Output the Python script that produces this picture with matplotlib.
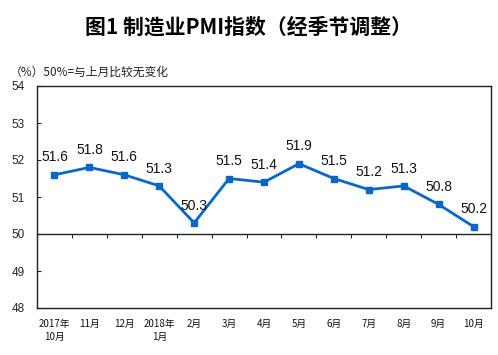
import matplotlib
matplotlib.use("Agg")
import matplotlib.pyplot as plt
import numpy as np

categories = ["2017年\n10月", "11月", "12月", "2018年\n1月", "2月", "3月", "4月",
              "5月", "6月", "7月", "8月", "9月", "10月"]
pmi = [51.6, 51.8, 51.6, 51.3, 50.3, 51.5, 51.4, 51.9, 51.5, 51.2, 51.3, 50.8, 50.2]
yticks = [48, 49, 50, 51, 52, 53, 54]
title = "图1 制造业PMI指数（经季节调整）"
note = "（%）50%=与上月比较无变化"

CJK = ["Noto Sans CJK SC", "DejaVu Sans"]
NUM = ["Liberation Sans", "DejaVu Sans"]
color = "#0a66c8"

fig = plt.figure(figsize=(4.98, 3.55), dpi=100)
ax = fig.add_axes([37/498, 1-308/355, 454/498, 222/355])

x = np.arange(len(pmi))
ax.plot(x, pmi, color=color, lw=2, marker="s", ms=4.5, zorder=3)
for xi, v in zip(x, pmi):
    ax.annotate(f"{v:.1f}", (xi, v), xytext=(0, 12.5), textcoords="offset points",
                ha="center", va="center", fontsize=10, family=NUM, color="#111111")

ax.set_xlim(-0.5, len(pmi)-0.5)
ax.set_ylim(yticks[0], yticks[-1])
ax.set_yticks(yticks)
ax.set_yticklabels([str(t) for t in yticks], family=NUM, fontsize=8.5)
ax.tick_params(axis="y", direction="in", length=3, width=0.8, pad=9, colors="#222222")

ax.set_xticks(x)
ax.set_xticklabels(categories, family=CJK, fontsize=7, linespacing=1.35)
ax.tick_params(axis="x", length=0, pad=8, colors="#111111")

for s in ax.spines.values():
    s.set_linewidth(1.0)
    s.set_color("#222222")

# axis line at 50 with category boundary ticks
loc = (50 - yticks[0]) / (yticks[-1] - yticks[0])
sec = ax.secondary_xaxis(loc)
sec.set_xticks(np.arange(len(pmi)+1) - 0.5)
sec.set_xticklabels([])
sec.tick_params(direction="out", length=3, width=0.8, colors="#222222")
sec.spines["bottom"].set_linewidth(1.0)
sec.spines["bottom"].set_color("#222222")

fig.text(248/498, 1-27/355, title, ha="center", va="center", fontsize=15,
         fontweight="bold", family=CJK)
fig.text(10/498, 1-72/355, note, ha="left", va="center", fontsize=8.5, family=CJK,
         color="#222222")

fig.savefig("out.png", dpi=100)
